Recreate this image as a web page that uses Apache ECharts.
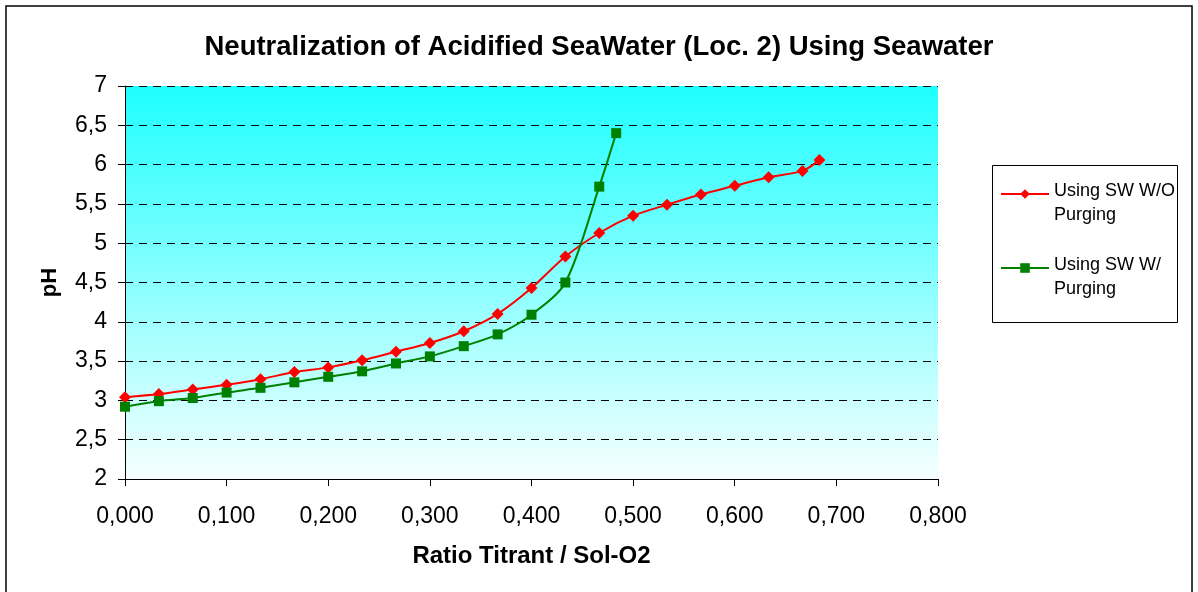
<!DOCTYPE html>
<html>
<head>
<meta charset="utf-8">
<style>
  html, body { margin: 0; padding: 0; background: #ffffff; }
  #chart { width: 1198px; height: 592px; }
</style>
<script src="https://cdn.jsdelivr.net/npm/echarts@6/dist/echarts.min.js"></script>
</head>
<body>
<div id="chart"></div>
<script>
// Titrant / Sol-O2 ratio (steps of 1/30) and measured pH values
const ratioNoPurge = [0, 1/30, 2/30, 3/30, 4/30, 5/30, 6/30, 7/30, 8/30, 9/30, 10/30,
  11/30, 12/30, 13/30, 14/30, 15/30, 16/30, 17/30, 18/30, 19/30, 20/30, 20.5/30];
const phNoPurge = [3.04, 3.08, 3.14, 3.20, 3.27, 3.36, 3.42, 3.51, 3.62, 3.73, 3.88,
  4.10, 4.43, 4.83, 5.13, 5.35, 5.49, 5.62, 5.73, 5.84, 5.92, 6.06];

const ratioPurge = [0, 1/30, 2/30, 3/30, 4/30, 5/30, 6/30, 7/30, 8/30, 9/30, 10/30,
  11/30, 12/30, 13/30, 14/30, 14.5/30];
const phPurge = [2.92, 2.99, 3.03, 3.10, 3.16, 3.23, 3.30, 3.37, 3.47, 3.56, 3.69,
  3.84, 4.09, 4.50, 5.72, 6.40];

const seriesNames = ['Using SW W/O\nPurging', 'Using SW W/\nPurging'];
const chartTitle = 'Neutralization of Acidified SeaWater (Loc. 2) Using Seawater';
const xAxisName = 'Ratio Titrant / Sol-O2';
const yAxisName = 'pH';

const FONT = '"Liberation Sans", Arial, sans-serif';
const pairs = (xs, ys) => xs.map((x, i) => [x, ys[i]]);
const comma = s => s.replace('.', ',');

const chart = echarts.init(document.getElementById('chart'), null, { renderer: 'canvas' });

chart.setOption({
  backgroundColor: '#ffffff',
  animation: false,
  textStyle: { fontFamily: FONT },
  title: {
    text: chartTitle,
    left: 'center',
    top: 28,
    textStyle: { fontFamily: FONT, fontSize: 27.5, fontWeight: 'bold', color: '#000' }
  },
  graphic: [
    {
      type: 'rect',
      shape: { x: 6, y: 6, width: 1186, height: 600 },
      style: { fill: 'none', stroke: '#000', lineWidth: 1.5 },
      silent: true
    },
    {
      type: 'rect',
      shape: { x: 992.5, y: 165.5, width: 185, height: 157 },
      style: { fill: '#fff', stroke: '#000', lineWidth: 1 },
      silent: true,
      z: 0
    }
  ],
  legend: {
    orient: 'vertical',
    left: 1000,
    top: 165,
    padding: 0,
    itemWidth: 48,
    itemHeight: 12,
    itemGap: 15,
    z: 5,
    // the spacer line lifts the icon to sit beside the first text line
    formatter: name => '{s| }\n' + name.split('\n').map(l => '{a|' + l + '}').join('\n'),
    textStyle: {
      fontFamily: FONT,
      fontSize: 18,
      color: '#000',
      rich: {
        s: { fontSize: 10, lineHeight: 18 },
        a: { fontFamily: FONT, fontSize: 18, lineHeight: 24, color: '#000' }
      }
    },
    data: seriesNames
  },
  grid: {
    left: 125,
    right: 260,
    top: 86,
    bottom: 113,
    show: true,
    borderWidth: 0,
    backgroundColor: new echarts.graphic.LinearGradient(0, 0, 0, 1, [
      { offset: 0, color: '#1EFFFF' },
      { offset: 1, color: '#F6FFFF' }
    ])
  },
  xAxis: {
    type: 'value',
    min: 0,
    max: 0.8,
    interval: 0.1,
    name: xAxisName,
    nameLocation: 'middle',
    nameGap: 65,
    nameTextStyle: { fontFamily: FONT, fontSize: 24, fontWeight: 'bold', color: '#000' },
    axisLine: { show: true, onZero: false, lineStyle: { color: '#000', width: 1 } },
    axisTick: { show: true, inside: false, length: 7, lineStyle: { color: '#000' } },
    axisLabel: {
      margin: 26,
      fontFamily: FONT,
      fontSize: 23,
      color: '#000',
      formatter: v => comma(v.toFixed(3))
    },
    splitLine: { show: false }
  },
  yAxis: {
    type: 'value',
    min: 2,
    max: 7,
    interval: 0.5,
    name: yAxisName,
    nameLocation: 'middle',
    nameGap: 64,
    nameTextStyle: { fontFamily: FONT, fontSize: 22, fontWeight: 'bold', color: '#000' },
    axisLine: { show: true, lineStyle: { color: '#000', width: 1 } },
    axisTick: { show: true, inside: false, length: 7, lineStyle: { color: '#000' } },
    axisLabel: {
      margin: 18,
      fontFamily: FONT,
      fontSize: 23,
      color: '#000',
      formatter: v => comma(String(Math.round(v * 10) / 10))
    },
    splitLine: {
      show: true,
      lineStyle: { color: '#000', type: [8, 6], width: 1 }
    }
  },
  series: [
    {
      name: seriesNames[0],
      type: 'line',
      data: pairs(ratioNoPurge, phNoPurge),
      smooth: 0.3,
      symbol: 'diamond',
      symbolSize: 12,
      color: '#FF0000',
      lineStyle: { color: '#FF0000', width: 2 },
      itemStyle: { color: '#FF0000' },
      z: 3
    },
    {
      name: seriesNames[1],
      type: 'line',
      data: pairs(ratioPurge, phPurge),
      smooth: 0.3,
      symbol: 'rect',
      symbolSize: 10,
      color: '#008000',
      lineStyle: { color: '#008000', width: 2 },
      itemStyle: { color: '#008000' },
      z: 4
    }
  ]
});
</script>
</body>
</html>
